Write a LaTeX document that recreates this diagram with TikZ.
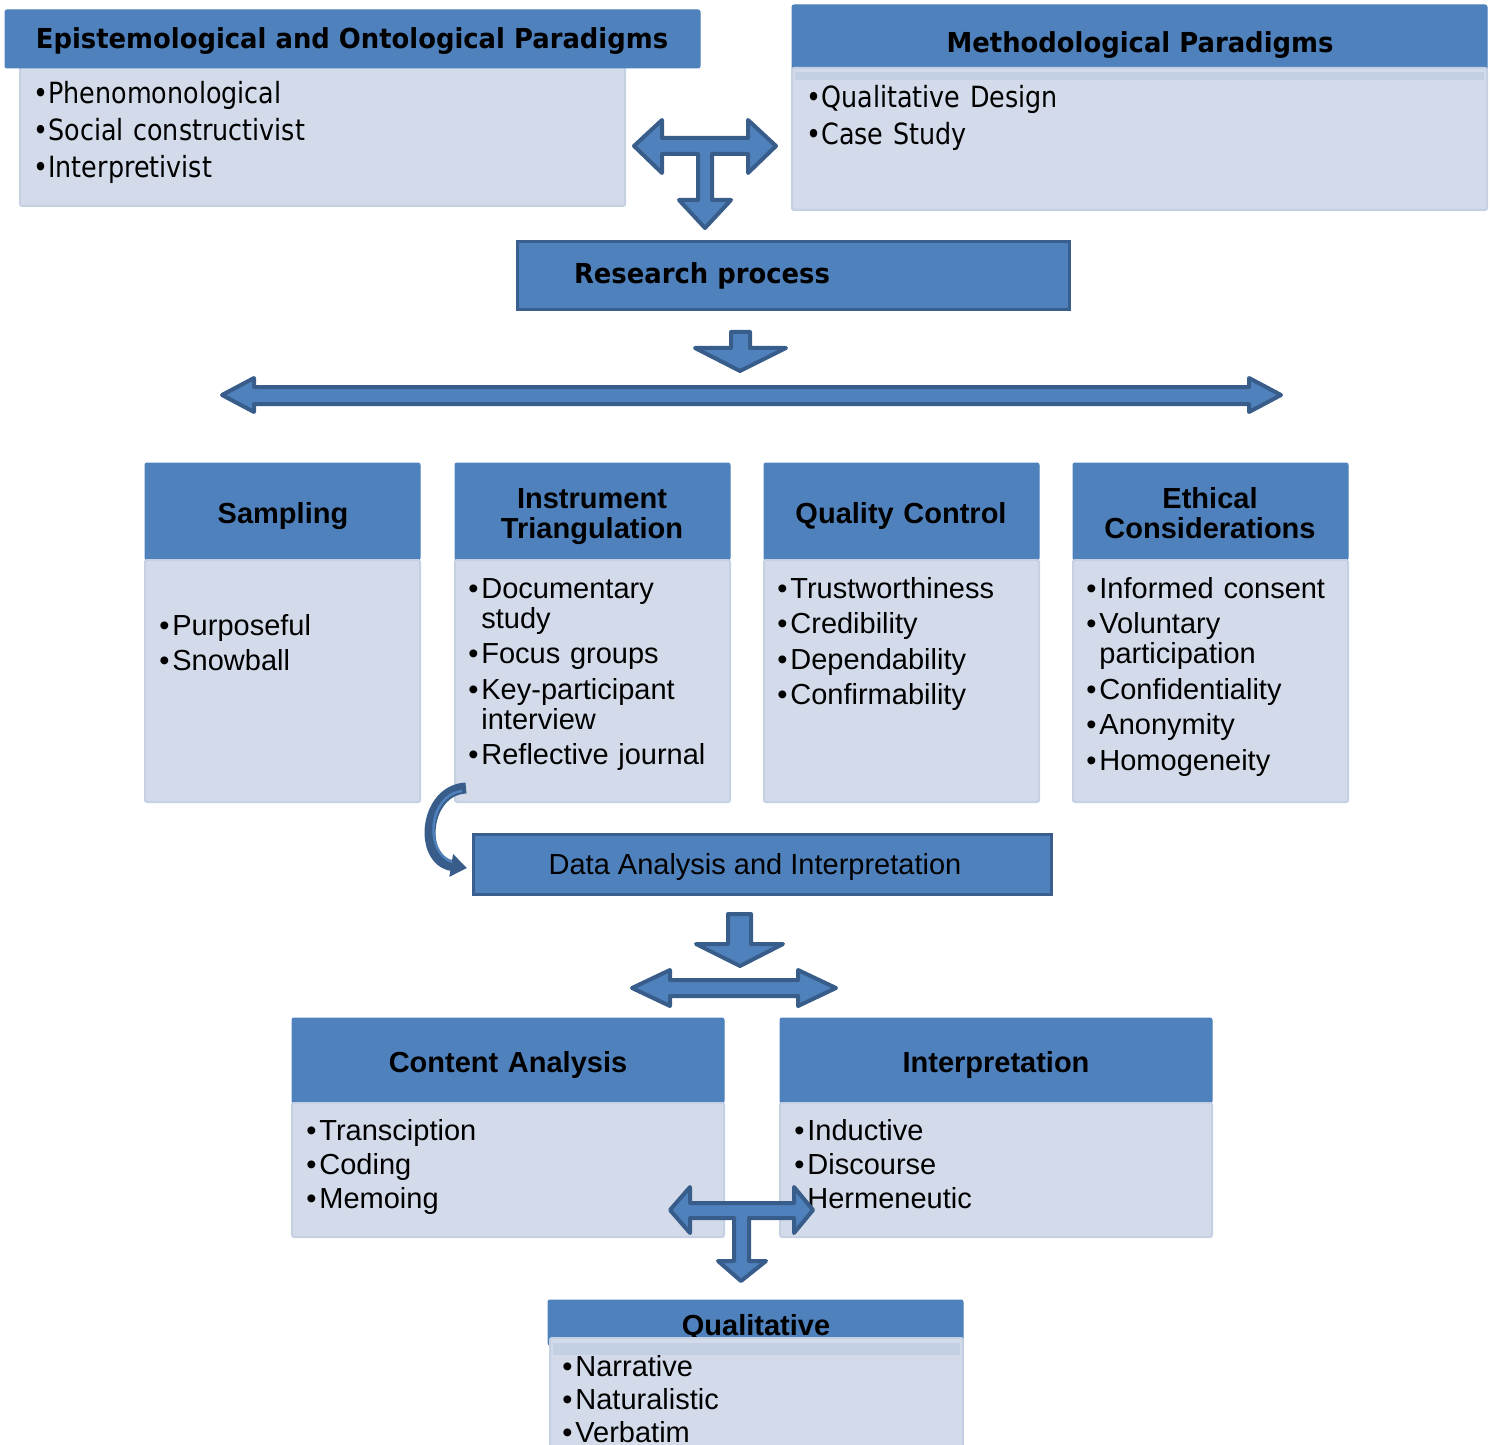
\documentclass[tikz,border=0pt]{standalone}
\usepackage{fontspec}
\setmainfont{Liberation Sans}
\newfontfamily\tahfont[FakeStretch=0.87]{DejaVu Sans}
\newfontfamily\tahbfont[FakeStretch=0.94]{DejaVu Sans}
\usetikzlibrary{arrows.meta}
\definecolor{hdr}{HTML}{4F81BD}
\definecolor{bdy}{HTML}{D3DBEA}
\definecolor{bdyline}{HTML}{C6D0E3}
\definecolor{strip}{HTML}{C3CFE2}
\definecolor{arrline}{HTML}{385D8A}
\definecolor{boxline}{HTML}{3A5F8E}
\newcommand{\bl}{\makebox[6.5pt][l]{•}}
\newcommand{\ct}{\hspace*{6.5pt}}
\begin{document}
\begin{tikzpicture}[x=0.5pt,y=-0.5pt,
  hdrbox/.style={fill=hdr, draw=hdr, line width=0.5pt, rounded corners=1pt},
  bodybox/.style={fill=bdy, draw=bdyline, line width=1pt, rounded corners=1pt},
  stripbox/.style={fill=strip, draw=none},
  mainbox/.style={fill=hdr, draw=boxline, line width=1.5pt},
  blockarrow/.style={fill=hdr, draw=arrline, line width=2pt, line join=round},
  tahhead/.style={anchor=base, inner sep=0pt, font=\tahbfont\bfseries\fontsize{13.75}{16}\selectfont},
  tahlist/.style={anchor=base west, inner sep=0pt, align=left, text width=300pt, font=\tahfont\fontsize{14.6}{18.5}\selectfont},
  colhead/.style={anchor=base, inner sep=0pt, align=center, text width=135pt, font=\bfseries\fontsize{14.5}{15}\selectfont},
  collist/.style={anchor=base west, inner sep=0pt, align=left, text width=135pt, font=\fontsize{14.5}{15}\selectfont},
  widelist/.style={anchor=base west, inner sep=0pt, align=left, text width=200pt, font=\fontsize{14.5}{17}\selectfont}
]
\useasboundingbox (0,0) rectangle (1492,1444);
\clip (0,0) rectangle (1492,1444);

% ---- top left
\draw[bodybox] (20,63) rectangle (625,206);
\draw[hdrbox] (5,10) rectangle (700,68);
\node[tahhead] (epi) at (352,49) {Epistemological and Ontological Paradigms};
\node[tahlist] (epil) at (33,104) {•Phenomonological\\•Social constructivist\\•Interpretivist};

% ---- top right
\draw[hdrbox] (792,5) rectangle (1487,70);
\node[tahhead] (meth) at (1140,53) {Methodological Paradigms};
\draw[bodybox] (792,68) rectangle (1487,210);
\fill[strip] (795,72) rectangle (1484,80);
\node[tahlist] (methl) at (806,108) {•Qualitative Design\\•Case Study};

% ---- top T arrow
\draw[blockarrow] (634,146) -- (662,120) -- (662,138) -- (748,138) -- (748,120) -- (776,146)
  -- (748,173) -- (748,154) -- (712,154) -- (712,200) -- (731,200) -- (705,228)
  -- (679,200) -- (698,200) -- (698,154) -- (662,154) -- (662,173) -- cycle;

% ---- research process
\draw[mainbox] (517,242) rectangle (1069,310);
\node[tahhead] (rp) at (702,284) {Research process};

% ---- small down arrow and long double arrow
\draw[blockarrow] (731,332) -- (750,332) -- (750,348) -- (786,348) -- (740,371) -- (695,348) -- (731,348) -- cycle;
\draw[blockarrow] (222,395) -- (254,378) -- (254,387) -- (1249,387) -- (1249,378) -- (1281,395)
  -- (1249,412) -- (1249,404) -- (254,404) -- (254,412) -- cycle;

% ---- four columns
\foreach \xa/\xb in {145/420, 455/730, 764/1039, 1073/1348}{
  \draw[hdrbox] (\xa,463) rectangle (\xb,560);
  \draw[bodybox] (\xa,560) rectangle (\xb,802);
}
\node[colhead] (samp) at (283,523) {Sampling};
\node[colhead] (inst) at (592,508) {Instrument\\Triangulation};
\node[colhead] (qc) at (901,523) {Quality Control};
\node[colhead] (eth) at (1210,508) {Ethical\\Considerations};

\node[collist] (sampl) at (159,635) {\bl Purposeful\\[2.75pt]\bl Snowball};
\node[collist] (instl) at (468,598) {\bl Documentary\\\ct study\\[2.75pt]\bl Focus groups\\[2.75pt]\bl Key-participant\\\ct interview\\[2.75pt]\bl Reflective journal};
\node[collist] (qcl) at (777,598) {\bl Trustworthiness\\[2.75pt]\bl Credibility\\[2.75pt]\bl Dependability\\[2.75pt]\bl Confirmability};
\node[collist] (ethl) at (1086,598) {\bl Informed consent\\[2.75pt]\bl Voluntary\\\ct participation\\[2.75pt]\bl Confidentiality\\[2.75pt]\bl Anonymity\\[2.75pt]\bl Homogeneity};

% ---- data analysis
\draw[mainbox] (473,834) rectangle (1051,894);
\node[anchor=base, inner sep=0pt, font=\fontsize{14.5}{16}\selectfont] (da) at (755,874) {Data Analysis and Interpretation};
\coordinate (cstart) at (466,788);
\coordinate (cend) at (467,868);
\draw[line width=5.5pt, arrline, -{Triangle[length=8pt,width=11pt]}] (cstart) .. controls (424,790) and (418,860) .. (cend);
\draw[line width=1.2pt, hdr] (462,791) .. controls (428,795) and (424,852) .. (452,862);

% ---- down arrow and double arrow
\draw[blockarrow] (728,914) -- (751,914) -- (751,944) -- (783,944) -- (740,966) -- (696,944) -- (728,944) -- cycle;
\draw[blockarrow] (632,988) -- (670,970) -- (670,980) -- (798,980) -- (798,970) -- (836,988)
  -- (798,1006) -- (798,996) -- (670,996) -- (670,1006) -- cycle;

% ---- content analysis & interpretation
\draw[hdrbox] (292,1018) rectangle (724,1103);
\draw[bodybox] (292,1103) rectangle (724,1237);
\draw[hdrbox] (780,1018) rectangle (1212,1103);
\draw[bodybox] (780,1103) rectangle (1212,1237);
\node[colhead, text width=200pt] (ca) at (508,1072) {Content Analysis};
\node[colhead, text width=200pt] (interp) at (996,1072) {Interpretation};
\node[widelist] (cal) at (306,1140) {\bl Transciption\\\bl Coding\\\bl Memoing};
\node[widelist] (interpl) at (794,1140) {\bl Inductive\\\bl Discourse\\\bl Hermeneutic};

% ---- bottom T arrow
\draw[blockarrow] (670,1210) -- (690,1187) -- (690,1203) -- (794,1203) -- (794,1187) -- (813,1210)
  -- (794,1233) -- (794,1218) -- (749,1218) -- (749,1261) -- (766,1261) -- (741,1281)
  -- (718,1261) -- (734,1261) -- (734,1218) -- (690,1218) -- (690,1233) -- cycle;

% ---- qualitative
\draw[hdrbox] (548,1300) rectangle (963,1345);
\node[colhead, text width=200pt] (qual) at (756,1335) {Qualitative};
\draw[bodybox] (550,1338) rectangle (963,1460);
\fill[strip] (553,1343) rectangle (960,1355);
\node[widelist, font=\fontsize{14.5}{16.6}\selectfont] (quall) at (562,1376) {\bl Narrative\\\bl Naturalistic\\\bl Verbatim};
\end{tikzpicture}
\end{document}
